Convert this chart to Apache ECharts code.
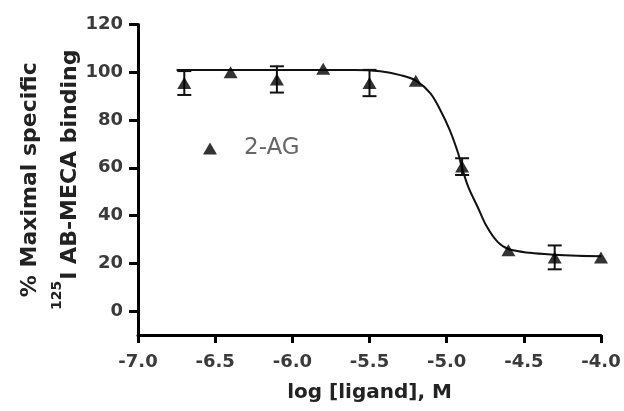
<!DOCTYPE html>
<html>
<head>
<meta charset="utf-8">
<script src="https://cdn.jsdelivr.net/npm/echarts@6/dist/echarts.min.js"></script>
<style>
html,body{margin:0;padding:0;background:#fff;}
#chart{width:624px;height:411px;}
</style>
</head>
<body>
<div id="chart"></div>
<script>
// Measured data (log [ligand], M vs % maximal specific binding)
const seriesName = '2-AG';
const logConc = [-6.7, -6.4, -6.1, -5.8, -5.5, -5.2, -4.9, -4.6, -4.3, -4.0];
const binding = [95.5, 100, 97, 101.5, 95.5, 96.5, 60.5, 25.5, 22.5, 22.5];
const sem     = [5, 0, 5.5, 0, 5.5, 0, 3.5, 0, 5, 0];

// Fitted curve
const fitX = [-6.75, -6.3, -5.9, -5.6, -5.43, -5.30, -5.2, -5.105, -5.04, -4.98, -4.925, -4.905, -4.86, -4.80, -4.74, -4.67, -4.60, -4.46, -4.3, -4.15, -4.0];
const fitY = [101, 101, 101, 101, 100.4, 98.8, 96.5, 91.2, 84, 75.8, 66, 61, 52, 43.7, 35.4, 29, 26, 24.4, 23.6, 23.2, 23];

// Tick labels
const xTicks = [-7.0, -6.5, -6.0, -5.5, -5.0, -4.5, -4.0];
const yTicks = [0, 20, 40, 60, 80, 100, 120];

const pts = logConc.map((x, i) => [x, binding[i]]);
const errs = logConc.map((x, i) => [x, binding[i], sem[i]]).filter(d => d[2] > 0);
const fit = fitX.map((x, i) => [x, fitY[i]]);

const FONT = 'DejaVu Sans';
const chart = echarts.init(document.getElementById('chart'));
chart.setOption({
  animation: false,
  backgroundColor: '#fff',
  grid: {left: 138, right: 23, top: 24.5, bottom: 76, containLabel: false, outerBoundsMode: 'none'},
  legend: {
    data: [seriesName],
    left: 198, top: 132,
    itemWidth: 14, itemHeight: 12,
    textStyle: {fontFamily: FONT, fontSize: 23, color: '#666', padding: [0, 0, 0, 22]}
  },
  xAxis: {
    type: 'value', min: -7, max: -4, interval: 0.5,
    axisLine: {show: true, onZero: false, lineStyle: {color: '#000', width: 3}},
    axisTick: {show: true, length: 8, lineStyle: {color: '#000', width: 3}, customValues: xTicks},
    axisLabel: {customValues: xTicks, formatter: v => v.toFixed(1), fontFamily: FONT, fontWeight: 'bold', fontSize: 18, color: '#3a3a3a', margin: 18, showMinLabel: true, showMaxLabel: true},
    splitLine: {show: false},
    name: 'log [ligand], M', nameLocation: 'middle', nameGap: 48, nameMoveOverlap: false,
    nameTextStyle: {fontFamily: FONT, fontWeight: 'bold', fontSize: 20, color: '#222'}
  },
  yAxis: {
    type: 'value', min: -10, max: 120,
    axisLine: {show: true, onZero: false, lineStyle: {color: '#000', width: 3}},
    axisTick: {show: true, length: 9, lineStyle: {color: '#000', width: 3}, customValues: yTicks},
    axisLabel: {customValues: yTicks, fontFamily: FONT, fontWeight: 'bold', fontSize: 18, color: '#3a3a3a', margin: 15},
    splitLine: {show: false},
    name: '% Maximal specific\n{sup|125}I AB-MECA binding',
    nameLocation: 'middle', nameGap: 48, nameRotate: 90, nameMoveOverlap: false,
    nameTextStyle: {
      fontFamily: FONT, fontWeight: 'bold', fontSize: 22, color: '#222', lineHeight: 40,
      rich: {sup: {fontFamily: FONT, fontWeight: 'bold', fontSize: 14, color: '#222', verticalAlign: 'top', lineHeight: 40, padding: [0, 1, 12, 0]}}
    }
  },
  series: [
    {
      name: 'fit', type: 'line', data: fit, smooth: 0.35,
      symbol: 'none', lineStyle: {color: '#111', width: 2}, z: 2
    },
    {
      name: 'err', type: 'custom', data: errs, z: 3,
      renderItem: (params, api) => {
        const x = api.value(0), m = api.value(1), e = api.value(2);
        const top = api.coord([x, m + e]);
        const bot = api.coord([x, m - e]);
        const hw = 7;
        const st = {stroke: '#111', lineWidth: 2};
        return {type: 'group', children: [
          {type: 'line', shape: {x1: top[0], y1: top[1], x2: bot[0], y2: bot[1]}, style: st},
          {type: 'line', shape: {x1: top[0]-hw, y1: top[1], x2: top[0]+hw, y2: top[1]}, style: st},
          {type: 'line', shape: {x1: bot[0]-hw, y1: bot[1], x2: bot[0]+hw, y2: bot[1]}, style: st}
        ]};
      }
    },
    {
      name: seriesName, type: 'scatter', data: pts, symbol: 'triangle', symbolSize: [14, 12],
      itemStyle: {color: '#000'}, z: 4
    }
  ]
});
</script>
</body>
</html>
